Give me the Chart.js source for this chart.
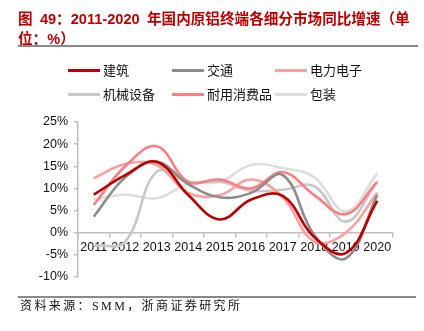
<!DOCTYPE html>
<html>
<head>
<meta charset="utf-8">
<script src="https://cdn.jsdelivr.net/npm/chart.js@4/dist/chart.umd.min.js"></script>
<style>
  html, body { margin: 0; padding: 0; background: #fff; }
  body { width: 424px; height: 331px; position: relative; overflow: hidden; }
  #c { position: absolute; left: 0; top: 0; }
  #title { position: absolute; left: 18px; top: 9px; width: 406px; font: bold 14.6px/20px "Liberation Sans", "Noto Sans CJK SC", sans-serif; color: #C00000; white-space: nowrap; }
  #rule1 { position: absolute; left: 18px; top: 45px; width: 400px; height: 2px; background: #8a8a8a; }
  #rule2 { position: absolute; left: 18px; top: 296px; width: 398px; height: 1.5px; background: #8a8a8a; }
  #source { position: absolute; left: 20px; top: 298px; font: 12px/16px "Liberation Serif", "Noto Sans CJK SC", serif; color: #111; letter-spacing: 2.4px; white-space: nowrap; }
  .lg { position: absolute; height: 18px; font: 13px/18px "Noto Sans CJK SC", sans-serif; color: #111; white-space: nowrap; }
  .lg i { position: absolute; left: 0; top: 7.5px; width: 32px; height: 3px; }
  .lg span { position: absolute; left: 35px; top: 0; }
</style>
</head>
<body>
<canvas id="c" width="424" height="331"></canvas>
<div id="title">图&ensp;49：2011-2020&ensp;年国内原铝终端各细分市场同比增速（单<br>位：%）</div>
<div id="rule1"></div>
<div id="legend"></div>
<div id="rule2"></div>
<div id="source">资料来源：SMM，浙商证券研究所</div>
<script>
// ---- data ----
const years = ['2011','2012','2013','2014','2015','2016','2017','2018','2019','2020'];
const seriesNames = ['建筑','交通','电力电子','机械设备','耐用消费品','包装'];
const jianzhu   = [8.6, 13.0, 16.0, 8.5, 3.0, 7.5, 8.3, -1.0, -4.6, 7.2];
const jiaotong  = [3.6, 12.5, 16.0, 11.0, 8.0, 9.0, 13.0, -0.5, -5.8, 8.5];
const dianli    = [12.3, 15.5, 15.3, 9.0, 8.5, 12.0, 8.0, -2.0, 0.0, 9.0];
const jixie     = [-3.0, -2.0, 13.8, 11.5, 11.5, 9.5, 9.7, 10.5, 2.5, 11.5];
const naiyong   = [6.3, 15.0, 19.5, 11.5, 12.0, 10.0, 13.7, 8.5, 4.2, 11.5];
const baozhuang = [7.5, 8.6, 7.8, 11.0, 11.5, 15.3, 14.6, 12.5, 4.8, 13.4];
const yTicks = [-10, -5, 0, 5, 10, 15, 20, 25];

const colors = ['#C00000', '#8C8C8C', '#FF9E9E', '#C8C8C8', '#FF7C80', '#DEDEDE'];
const values = [jianzhu, jiaotong, dianli, jixie, naiyong, baozhuang];
// drawing order: lighter lines behind
const order = [5, 3, 2, 4, 1, 0];

const datasets = seriesNames.map((name, i) => ({
  label: name,
  data: values[i],
  borderColor: colors[i],
  backgroundColor: colors[i],
  borderWidth: 2.6,
  pointRadius: 0,
  pointHoverRadius: 0,
  tension: 0.4,
  fill: false,
  order: 6 - order.indexOf(i)
}));

// HTML legend built from the series
const legendPos = [[68,61],[172,61],[275,61],[68,85],[172,85],[275,85]];
const lg = document.getElementById('legend');
seriesNames.forEach((name, i) => {
  const d = document.createElement('div');
  d.className = 'lg';
  d.style.left = legendPos[i][0] + 'px';
  d.style.top = legendPos[i][1] + 'px';
  d.innerHTML = '<i style="background:' + colors[i] + '"></i><span>' + name + '</span>';
  lg.appendChild(d);
});

const axisColor = '#BFBFBF';
new Chart(document.getElementById('c'), {
  type: 'line',
  data: { labels: years, datasets: datasets },
  options: {
    responsive: false,
    animation: false,
    events: [],
    layout: { padding: { left: 0, right: 31, top: 122, bottom: 54 } },
    plugins: { legend: { display: false }, tooltip: { enabled: false }, title: { display: false } },
    scales: {
      x: {
        type: 'category',
        position: { y: 0 },
        offset: true,
        grid: { display: true, drawOnChartArea: false, drawTicks: true, tickLength: 4, offset: true, color: axisColor, lineWidth: 1.5 },
        border: { display: true, color: axisColor, width: 1.5 },
        ticks: { color: '#111', font: { family: 'Liberation Sans', size: 12.5 }, padding: 3, maxRotation: 0, autoSkip: false },
        afterFit: (s) => { s.height = 0; }
      },
      y: {
        min: -10, max: 25,
        afterBuildTicks: (s) => { s.ticks = yTicks.map(v => ({ value: v })); },
        grid: { display: true, drawOnChartArea: false, drawTicks: true, tickLength: 4, color: axisColor, lineWidth: 1.5 },
        border: { display: true, color: axisColor, width: 1.5 },
        ticks: { color: '#111', font: { family: 'Liberation Sans', size: 12.5 }, padding: 6, callback: (v) => v + '%' },
        afterFit: (s) => { s.width = 78; }
      }
    }
  }
});
</script>
</body>
</html>
